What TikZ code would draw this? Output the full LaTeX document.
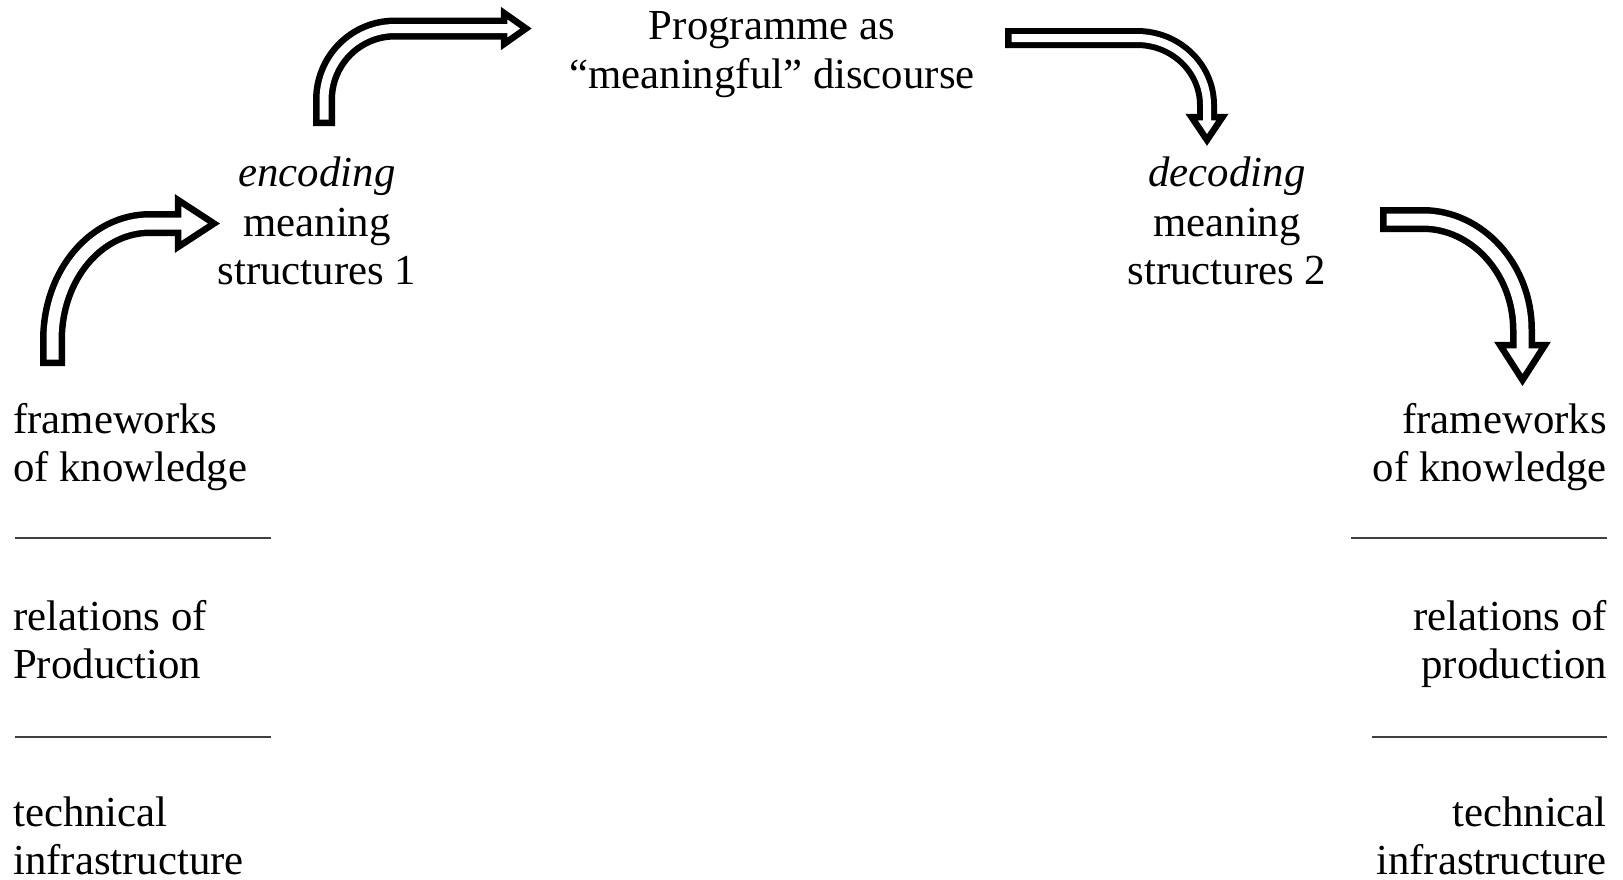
\documentclass[tikz,border=0pt]{standalone}
\usepackage{fontspec}
\setmainfont{Liberation Serif}
\begin{document}
\begin{tikzpicture}[x=1pt,y=-1pt,
  lbl/.style={inner sep=0pt, font=\fontsize{42.8}{47.6}\selectfont},
  rule/.style={line width=2pt, black!75},
  shaftout/.style={line width=#1, black, line cap=butt},
  shaftin/.style={line width=#1, white, line cap=butt},
  headtri/.style={draw=black, fill=white, line width=6.5pt, line join=miter}]
\useasboundingbox[fill=white] (0,0) rectangle (1623,879);

% ---- text nodes ----
\node[lbl, anchor=base] (prog1) at (772,39) {Programme as};
\node[lbl, anchor=base] (prog2) at (772,88) {“meaningful” discourse};

\node[lbl, anchor=base, font=\fontsize{42.8}{47.6}\selectfont\itshape] (enc1) at (317,186) {encoding};
\node[lbl, anchor=base] (enc2) at (317,236) {meaning};
\node[lbl, anchor=base] (enc3) at (317,284) {structures 1};

\node[lbl, anchor=base, font=\fontsize{42.8}{47.6}\selectfont\itshape] (dec1) at (1227,186) {decoding};
\node[lbl, anchor=base] (dec2) at (1227,236) {meaning};
\node[lbl, anchor=base] (dec3) at (1227,284) {structures 2};

\node[lbl, anchor=base west] (lf1) at (13,433) {frameworks};
\node[lbl, anchor=base west] (lf2) at (13,481) {of knowledge};
\node[lbl, anchor=base west] (lr1) at (13,630) {relations of};
\node[lbl, anchor=base west] (lr2) at (13,678) {Production};
\node[lbl, anchor=base west] (lt1) at (13,826) {technical};
\node[lbl, anchor=base west] (lt2) at (13,874) {infrastructure};

\node[lbl, anchor=base east] (rf1) at (1607,433) {frameworks};
\node[lbl, anchor=base east] (rf2) at (1607,481) {of knowledge};
\node[lbl, anchor=base east] (rr1) at (1607,630) {relations of};
\node[lbl, anchor=base east] (rr2) at (1607,678) {production};
\node[lbl, anchor=base east] (rt1) at (1607,826) {technical};
\node[lbl, anchor=base east] (rt2) at (1607,874) {infrastructure};

% ---- separator rules ----
\coordinate (L1a) at (14.5,538); \coordinate (L1b) at (271,538);
\coordinate (L2a) at (14.5,737); \coordinate (L2b) at (271,737);
\coordinate (R1a) at (1351,538); \coordinate (R1b) at (1607,538);
\coordinate (R2a) at (1372,737); \coordinate (R2b) at (1607,737);
\draw[rule] (L1a) -- (L1b);
\draw[rule] (L2a) -- (L2b);
\draw[rule] (R1a) -- (R1b);
\draw[rule] (R2a) -- (R2b);

% ---- arrow 1: frameworks -> encoding ----
\draw[shaftout=25pt] (52.5,366) -- (52.5,340) .. controls (52.5,275) and (96,223.5) .. (150,223.5) -- (178,223.5);
\draw[headtri] (178,200) -- (178,247) -- (214,223.5) -- cycle;
\draw[shaftin=12pt] (52.5,359.5) -- (52.5,340) .. controls (52.5,275) and (96,223.5) .. (150,223.5) -- (187,223.5);

% ---- arrow 2: encoding -> programme ----
\draw[shaftout=22pt] (324,126) -- (324,100) .. controls (324,60) and (356,28.5) .. (395,28.5) -- (504,28.5);
\draw[headtri] (504,13) -- (504,44) -- (526,28.5) -- cycle;
\draw[shaftin=9pt] (324,119.5) -- (324,100) .. controls (324,60) and (356,28.5) .. (395,28.5) -- (512,28.5);

% ---- arrow 3: programme -> decoding ----
\draw[shaftout=20pt] (1005,38) -- (1137,38) .. controls (1175.5,38) and (1207,68) .. (1207,105) -- (1207,117);
\draw[headtri] (1191.5,117) -- (1222.5,117) -- (1207,140) -- cycle;
\draw[shaftin=8pt] (1011.5,38) -- (1137,38) .. controls (1175.5,38) and (1207,68) .. (1207,105) -- (1207,125);

% ---- arrow 4: decoding -> frameworks ----
\draw[shaftout=25pt] (1380,219.5) -- (1423,219.5) .. controls (1477,219.5) and (1522.5,269) .. (1522.5,330) -- (1522.5,345);
\draw[headtri] (1500,345) -- (1545,345) -- (1522.5,380) -- cycle;
\draw[shaftin=12pt] (1386.5,219.5) -- (1423,219.5) .. controls (1477,219.5) and (1522.5,269) .. (1522.5,330) -- (1522.5,353);
\end{tikzpicture}
\end{document}
